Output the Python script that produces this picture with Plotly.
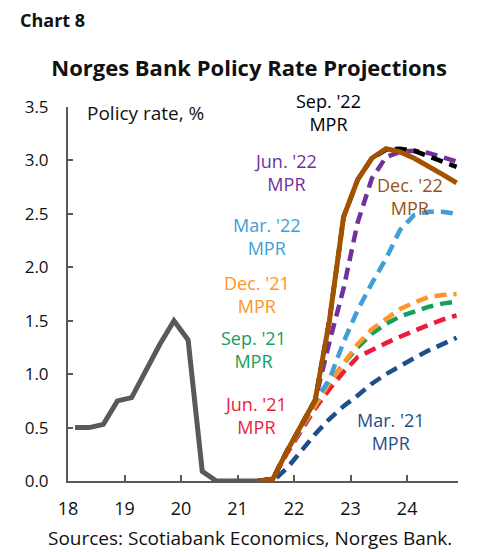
import plotly.graph_objects as go

# quarterly points, placed at mid-quarter on a year axis (18 = 2018)
hist_x = [18.125, 18.375, 18.625, 18.875, 19.125, 19.375, 19.625, 19.875,
          20.125, 20.375, 20.625, 20.875, 21.125, 21.375]
hist_rate = [0.50, 0.50, 0.53, 0.75, 0.78, 1.03, 1.28, 1.50,
             1.32, 0.09, 0.00, 0.00, 0.00, 0.00]

proj_x = [21.375, 21.625, 21.875, 22.125, 22.375, 22.625, 22.875, 23.125,
          23.375, 23.625, 23.875, 24.125, 24.375, 24.625, 24.875]

mar21 = [0.00, 0.00, 0.12, 0.28, 0.44, 0.58, 0.70, 0.80, 0.91, 1.00, 1.08, 1.15, 1.22, 1.28, 1.34]
jun21 = [0.00, 0.02, 0.26, 0.48, 0.68, 0.86, 1.02, 1.16, 1.23, 1.29, 1.35, 1.41, 1.46, 1.51, 1.55]
sep21 = [0.00, 0.02, 0.28, 0.50, 0.72, 0.92, 1.10, 1.25, 1.38, 1.47, 1.54, 1.59, 1.63, 1.66, 1.68]
dec21 = [0.00, 0.02, 0.28, 0.50, 0.72, 0.92, 1.10, 1.28, 1.42, 1.52, 1.61, 1.67, 1.72, 1.74, 1.75]
mar22 = [0.00, 0.02, 0.28, 0.50, 0.75, 0.95, 1.30, 1.60, 1.85, 2.08, 2.35, 2.49, 2.52, 2.52, 2.50]
jun22 = [0.00, 0.02, 0.28, 0.52, 0.76, 1.30, 1.80, 2.42, 2.83, 3.03, 3.08, 3.09, 3.07, 3.03, 2.99]
sep22 = [0.00, 0.02, 0.28, 0.52, 0.76, 1.50, 2.47, 2.82, 3.02, 3.10, 3.11, 3.09, 3.04, 2.99, 2.94]
dec22 = [0.00, 0.02, 0.28, 0.52, 0.76, 1.50, 2.47, 2.82, 3.02, 3.11, 3.08, 3.02, 2.95, 2.87, 2.79]

year_ticks = [18, 19, 20, 21, 22, 23, 24]
rate_ticks = [0.0, 0.5, 1.0, 1.5, 2.0, 2.5, 3.0, 3.5]

FONT = "Open Sans"
AXIS = "#595959"

# name, values, colour, label position (x, y)
dashed = [
    ("Mar. '21", mar21, "#1f4e8c", 23.7, 0.46),
    ("Jun. '21", jun21, "#ec1c3a", 21.31, 0.61),
    ("Sep. '21", sep21, "#12a05a", 21.29, 1.23),
    ("Dec. '21", dec21, "#ff9428", 21.34, 1.75),
    ("Mar. '22", mar22, "#3f9fd6", 21.52, 2.29),
    ("Jun. '22", jun22, "#7030a0", 21.84, 2.89),
    ("Sep. '22", sep22, "#000000", 22.6, 3.45),
]

fig = go.Figure()

fig.add_trace(go.Scatter(x=hist_x, y=hist_rate, mode="lines",
                         line=dict(color=AXIS, width=5), showlegend=False))

for name, vals, col, lx, ly in dashed:
    fig.add_trace(go.Scatter(x=proj_x, y=vals, mode="lines", name=name,
                             line=dict(color=col, width=4.5, dash="12px,7px"),
                             showlegend=False))
    fig.add_annotation(x=lx, y=ly, text=f"{name}<br>MPR", showarrow=False,
                       font=dict(family=FONT, size=18, color=col))

fig.add_trace(go.Scatter(x=proj_x, y=dec22, mode="lines", name="Dec. '22",
                         line=dict(color="#a35200", width=5), showlegend=False))
fig.add_annotation(x=24.05, y=2.66, text="Dec. '22<br>MPR", showarrow=False,
                   font=dict(family=FONT, size=18, color="#97521a"))

fig.add_annotation(x=18.3, y=3.44, text="Policy rate, %", showarrow=False,
                   xanchor="left", yanchor="middle",
                   font=dict(family=FONT, size=19, color="#111"))

# the page body adds an 8px offset, so margins are shifted by 8px
fig.add_annotation(xref="paper", yref="paper", x=0.467, y=-0.1535,
                   xanchor="center", yanchor="middle",
                   text="Sources: Scotiabank Economics, Norges Bank.",
                   showarrow=False, font=dict(family=FONT, size=19, color="#111"))
fig.add_annotation(xref="paper", yref="paper", x=-0.128, y=1.232,
                   xanchor="left", yanchor="middle",
                   text="<b>Chart 8</b>", showarrow=False,
                   font=dict(family=FONT, size=18, color="#111"))

fig.update_layout(
    width=470, height=552,
    margin=dict(l=60, r=20, t=99, b=78.5),
    plot_bgcolor="white", paper_bgcolor="white",
    title=dict(text="<b>Norges Bank Policy Rate Projections</b>",
               x=0.513, xanchor="center", y=1 - 60 / 552, yanchor="middle",
               font=dict(family=FONT, size=22, color="#111")),
    font=dict(family=FONT, size=17, color="#111"),
)
fig.update_xaxes(range=[18, 24.9], tickvals=year_ticks,
                 ticktext=[str(t) for t in year_ticks],
                 tickfont=dict(size=18),
                 showline=True, linecolor=AXIS, linewidth=2,
                 ticks="inside", ticklen=6, tickcolor=AXIS, tickwidth=1.5,
                 showgrid=False, zeroline=False, ticklabelstandoff=10)
fig.update_yaxes(range=[0, 3.5], tickvals=rate_ticks, tickformat=".1f",
                 showline=True, linecolor=AXIS, linewidth=2,
                 ticks="inside", ticklen=5, tickcolor=AXIS, tickwidth=1.5,
                 showgrid=False, zeroline=False, ticklabelstandoff=14)

fig.write_html("out.html")
